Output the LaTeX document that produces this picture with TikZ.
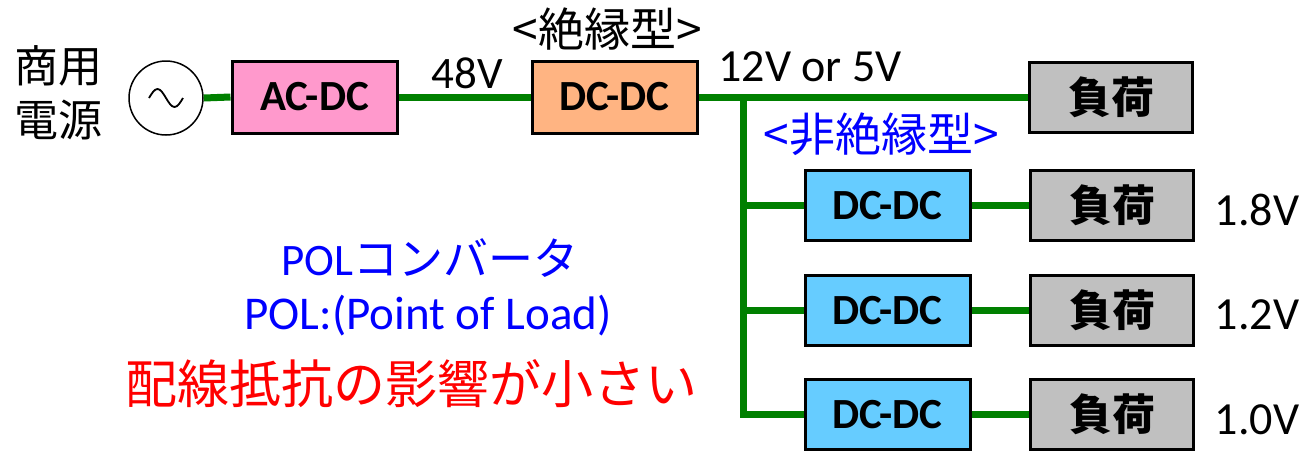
\documentclass[tikz,border=0pt]{standalone}
\usepackage{fontspec}
\setmainfont{Carlito}
\newfontfamily\jp{Noto Sans CJK JP}
\definecolor{wire}{RGB}{0,128,0}
\definecolor{pinkfill}{RGB}{255,153,204}
\definecolor{orangefill}{RGB}{255,180,130}
\definecolor{bluefill}{RGB}{102,204,255}
\definecolor{greyfill}{RGB}{192,192,192}
\begin{document}
\begin{tikzpicture}[x=1pt,y=-1pt,
  blk/.style={draw=black,line width=3pt,minimum width=165pt,minimum height=72pt,inner sep=0pt,font=\fontsize{43}{47}\selectfont\bfseries},
  loadbox/.style={blk,fill=greyfill,minimum width=163pt,minimum height=70pt,font=\fontsize{43}{47}\selectfont\jp\bfseries},
  lbl/.style={inner sep=0pt,font=\fontsize{46}{50}\selectfont},
  wireline/.style={draw=wire,line width=7pt}]
\useasboundingbox (0,0) rectangle (1304,451);
% source
\node[draw,circle,line width=1.5pt,minimum size=74pt,inner sep=0pt] (src) at (166,98) {};
\draw[line width=1.8pt] (149,98) sin (157.5,89) cos (166,98) sin (174.5,107) cos (183,98);
\node[lbl,font=\fontsize{44}{48}\selectfont\jp] (t1) at (58,66) {商用};
\node[lbl,font=\fontsize{44}{48}\selectfont\jp] (t2) at (58,120) {電源};
% main chain
\node[blk,fill=pinkfill] (acdc) at (314.5,97) {AC-DC};
\node[blk,fill=orangefill] (dc0) at (614.5,97) {DC-DC};
\node[loadbox] (ld0) at (1111,97) {負荷};
\node[lbl,font=\fontsize{45}{49}\selectfont] (v48) at (467,73) {48V};
\node[lbl,font=\fontsize{46}{50}\selectfont\jp] (iso) at (607,29) {<絶縁型>};
\node[lbl] (v12) at (810,67) {12V or 5V};
\node[lbl,text=blue,font=\fontsize{46}{50}\selectfont\jp] (niso) at (881,134) {<非絶縁型>};
% POL branches
\node[blk,fill=bluefill,minimum height=70pt] (dc1) at (887.5,205.5) {DC-DC};
\node[blk,fill=bluefill,minimum height=70pt] (dc2) at (887.5,310.5) {DC-DC};
\node[blk,fill=bluefill,minimum height=70pt] (dc3) at (887.5,414.5) {DC-DC};
\node[loadbox] (ld1) at (1112,205.5) {負荷};
\node[loadbox] (ld2) at (1112,310.5) {負荷};
\node[loadbox] (ld3) at (1112,414.5) {負荷};
\node[lbl] (v1) at (1257,210) {1.8V};
\node[lbl] (v2) at (1257,315) {1.2V};
\node[lbl] (v3) at (1257,420) {1.0V};
% wires
\coordinate (j0) at (743,97);
\coordinate (j1) at (743,205.5);
\coordinate (j2) at (743,310.5);
\coordinate (j3) at (743,414.5);
\draw[wireline] (src.east) -- (acdc.west);
\draw[wireline] (acdc.east) -- (dc0.west);
\draw[wireline] (dc0.east) -- (ld0.west);
\draw[wireline] (j0) -- (j3) -- (dc3.west);
\draw[wireline] (j1) -- (dc1.west);
\draw[wireline] (j2) -- (dc2.west);
\draw[wireline] (dc1.east) -- (ld1.west);
\draw[wireline] (dc2.east) -- (ld2.west);
\draw[wireline] (dc3.east) -- (ld3.west);
% notes
\node[lbl,text=blue,font=\fontsize{45}{49}\selectfont] (pol1) at (430,258) {POL{\jp コンバータ}};
\node[lbl,text=blue,font=\fontsize{47}{51}\selectfont] (pol2) at (428,316) {POL:(Point of Load)};
\node[lbl,text=red,font=\fontsize{52}{56}\selectfont\jp] (note) at (411,384) {配線抵抗の影響が小さい};
\end{tikzpicture}
\end{document}
